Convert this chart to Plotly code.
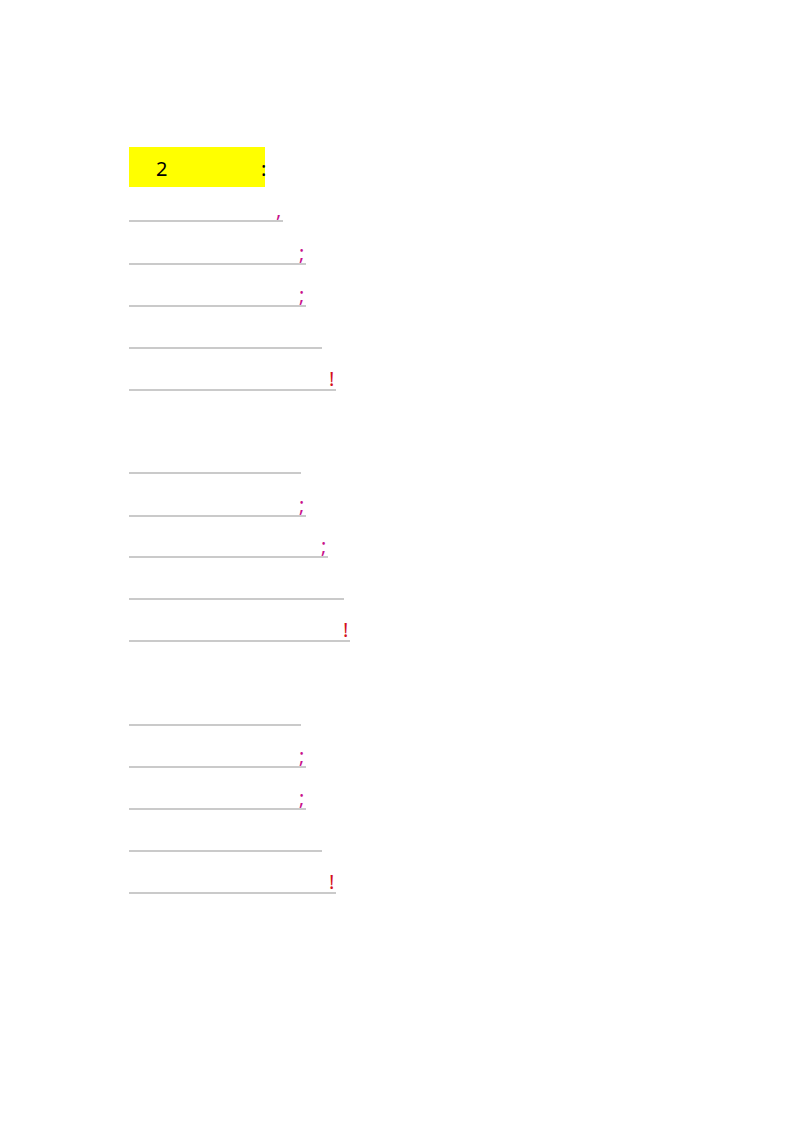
import plotly.graph_objects as go

# Row data: baseline y (page px), line end x, trailing punctuation
row_y = [213, 256, 298, 340, 382, 465, 508, 549, 591, 633, 717, 759, 801, 843, 885]
row_end = [275, 298, 298, 314, 328, 293, 298, 320, 336, 342, 293, 298, 298, 314, 328]
row_punct = [",", ";", ";", "", "!", "", ";", ";", "", "!", "", ";", ";", "", "!"]
line_start = 121
punct_colors = {",": "#c8108a", ";": "#c8108a", "!": "#d4101c"}

fig = go.Figure()
for y, xe, p in zip(row_y, row_end, row_punct):
    fig.add_trace(go.Scatter(x=[line_start, xe], y=[y, y], mode="lines",
                             line=dict(color="#b8b8b8", width=1.6),
                             hoverinfo="skip", showlegend=False))
    if p:
        fig.add_annotation(x=xe, y=y, text=p, showarrow=False, xanchor="right",
                           yanchor="bottom", yshift=-4,
                           font=dict(family="Noto Sans", size=20, color=punct_colors[p]))

# Yellow heading box
fig.add_shape(type="rect", x0=121, x1=257, y0=139, y1=179,
              fillcolor="#ffff00", line=dict(width=0), layer="below")
fig.add_annotation(x=153, y=160, text="2", showarrow=False,
                   font=dict(family="Noto Sans", size=20, color="black"))
fig.add_annotation(x=255, y=160, text=":", showarrow=False,
                   font=dict(family="Noto Sans", size=20, color="black"))

fig.update_layout(width=800, height=1132, margin=dict(l=0, r=0, t=0, b=0),
                  plot_bgcolor="white", paper_bgcolor="white",
                  xaxis=dict(range=[0, 800], visible=False, fixedrange=True),
                  yaxis=dict(range=[1132, 0], visible=False, fixedrange=True))
fig.write_html("out.html")
